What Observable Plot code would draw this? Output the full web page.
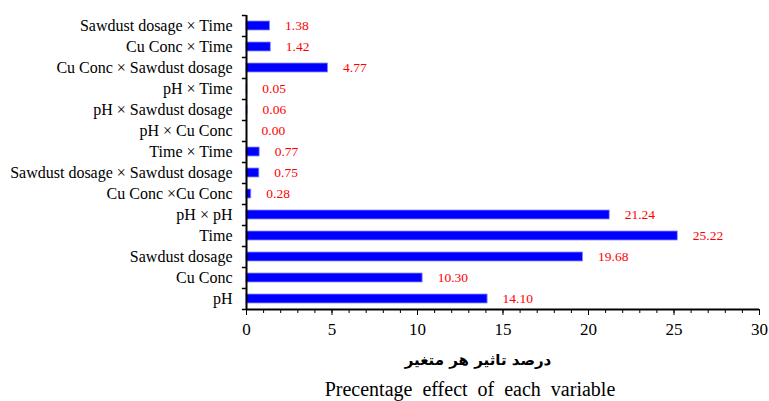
<!DOCTYPE html>
<html>
<head>
<meta charset="utf-8">
<script src="https://cdn.jsdelivr.net/npm/d3@7"></script>
<script src="https://cdn.jsdelivr.net/npm/@observablehq/plot@0.6"></script>
<style>
  html, body { margin: 0; padding: 0; background: #fff; }
  #wrap { position: relative; width: 769px; height: 401px; font-family: "Liberation Serif", "Times New Roman", "DejaVu Serif", serif; }
  #chart svg { display: block; }
  #chart svg text { font-family: "Liberation Serif", "Times New Roman", "DejaVu Serif", serif; }
  .xlab-fa { position: absolute; left: 378px; width: 200px; top: 351px; text-align: center; font-family: "DejaVu Sans", sans-serif; font-weight: bold; font-size: 15px; direction: rtl; color: #000; }
  .xlab-en { position: absolute; left: 270px; width: 400px; top: 378px; text-align: center; font-family: "Liberation Serif", "Times New Roman", serif; font-size: 20px; word-spacing: 5px; color: #000; }
</style>
</head>
<body>
<div id="wrap">
  <div id="chart"></div>
  <div class="xlab-fa">درصد تاثیر هر متغیر</div>
  <div class="xlab-en">Precentage effect of each variable</div>
</div>
<script>
// Variables listed bottom-to-top as in the picture
const variables = [
  "pH",
  "Cu Conc",
  "Sawdust dosage",
  "Time",
  "pH × pH",
  "Cu Conc ×Cu Conc",
  "Sawdust dosage × Sawdust dosage",
  "Time × Time",
  "pH × Cu Conc",
  "pH × Sawdust dosage",
  "pH × Time",
  "Cu Conc × Sawdust dosage",
  "Cu Conc × Time",
  "Sawdust dosage × Time"
];
const effects = [14.10, 10.30, 19.68, 25.22, 21.24, 0.28, 0.75, 0.77, 0.00, 0.06, 0.05, 4.77, 1.42, 1.38];
const xTicks = [0, 5, 10, 15, 20, 25, 30];
const xMinorTicks = d3.range(0, 31, 1);

const data = variables.map((v, i) => ({variable: v, effect: effects[i], label: effects[i].toFixed(2)}));
const topVar = variables[variables.length - 1];
const serif = "Liberation Serif";

const chart = Plot.plot({
  width: 769,
  height: 340,
  marginLeft: 246,
  marginRight: 10,
  marginTop: 15,
  marginBottom: 31,
  style: {fontFamily: "'Liberation Serif', 'Times New Roman', serif", background: "#fff", color: "#000"},
  x: {domain: [0, 30]},
  y: {domain: variables.slice().reverse(), padding: 0},
  marks: [
    Plot.barX(data, {x: "effect", y: "variable", fill: "#0000ff", stroke: "#8c8cff", strokeWidth: 0.8, insetTop: 6, insetBottom: 6}),
    Plot.text(data, {x: "effect", y: "variable", text: "label", textAnchor: "start", dx: 15, fill: "#ff0000", fontSize: 13.5, fontFamily: serif}),
    // y axis labels
    Plot.axisY({tickSize: 0, tickPadding: 14, fontSize: 16, fontFamily: serif, label: null}),
    // y axis band-boundary ticks
    Plot.ruleY(variables, {y: d => d, x1: -0.24, x2: 0, dy: 10.5, stroke: "#000", strokeWidth: 1.5}),
    Plot.ruleY([topVar], {y: d => d, x1: -0.24, x2: 0, dy: -10.5, stroke: "#000", strokeWidth: 1.5}),
    // y axis line
    Plot.ruleX([0], {stroke: "#000", strokeWidth: 2}),
    // x axis line (bottom of lowest band)
    Plot.ruleY([variables[0]], {y: d => d, dy: 10.5, stroke: "#000", strokeWidth: 2}),
    // x axis minor and major ticks
    Plot.axisX({ticks: xMinorTicks, tickSize: 4, tickFormat: () => "", label: null}),
    Plot.axisX({ticks: xTicks, tickSize: 6, tickPadding: 7, fontSize: 17, fontFamily: serif, label: null})
  ]
});
document.getElementById("chart").appendChild(chart);
</script>
</body>
</html>
